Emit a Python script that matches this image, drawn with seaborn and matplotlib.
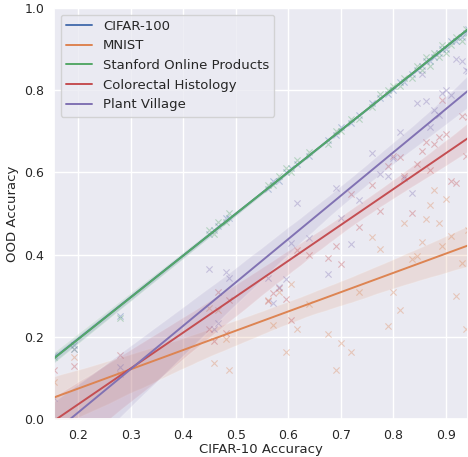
import pandas as pd
import matplotlib
matplotlib.use('Agg')
import matplotlib.pyplot as plt
import seaborn as sns

sns.set_theme(style='darkgrid')
plt.rcParams['font.family'] = ['DejaVu Sans']

# CIFAR-10 accuracy of each model (shared x)
cifar10 = [0.154, 0.192, 0.280, 0.449, 0.459, 0.466, 0.481, 0.487, 0.561, 0.571,
           0.583, 0.596, 0.606, 0.617, 0.640, 0.676, 0.690, 0.700, 0.720, 0.735,
           0.760, 0.775, 0.790, 0.800, 0.812, 0.820, 0.835, 0.845, 0.855, 0.862,
           0.870, 0.878, 0.886, 0.893, 0.900, 0.910, 0.920, 0.930, 0.938, 0.942]

# OOD accuracy per dataset
cifar100 = [0.155, 0.18, 0.25, 0.45, 0.46, 0.47, 0.49, 0.49, 0.56, 0.58,
            0.58, 0.60, 0.61, 0.62, 0.64, 0.68, 0.69, 0.71, 0.72, 0.74,
            0.77, 0.78, 0.79, 0.80, 0.82, 0.82, 0.84, 0.85, 0.86, 0.87,
            0.87, 0.88, 0.89, 0.90, 0.90, 0.92, 0.92, 0.93, 0.94, 0.95]
mnist = [0.09, 0.15, 0.11, 0.27, 0.135, 0.265, 0.195, 0.12, 0.29, 0.229,
         0.31, 0.164, 0.328, 0.22, 0.28, 0.206, 0.12, 0.184, 0.162, 0.308,
         0.443, 0.413, 0.227, 0.309, 0.265, 0.478, 0.39, 0.397, 0.43, 0.486,
         0.52, 0.557, 0.478, 0.42, 0.535, 0.446, 0.30, 0.38, 0.22, 0.46]
sop = [0.15, 0.17, 0.245, 0.46, 0.45, 0.48, 0.48, 0.50, 0.57, 0.57,
       0.59, 0.61, 0.60, 0.63, 0.65, 0.67, 0.70, 0.70, 0.73, 0.73,
       0.76, 0.79, 0.80, 0.81, 0.81, 0.83, 0.83, 0.86, 0.85, 0.88,
       0.86, 0.89, 0.88, 0.91, 0.89, 0.91, 0.93, 0.92, 0.95, 0.94]
colorectal = [0.12, 0.13, 0.156, 0.22, 0.19, 0.31, 0.21, 0.29, 0.287, 0.307,
              0.318, 0.291, 0.241, 0.41, 0.40, 0.392, 0.421, 0.376, 0.547, 0.468,
              0.569, 0.506, 0.616, 0.64, 0.637, 0.59, 0.502, 0.62, 0.652, 0.675,
              0.607, 0.668, 0.685, 0.776, 0.693, 0.579, 0.573, 0.738, 0.64, 0.735]
plant_village = [0.05, 0.17, 0.127, 0.364, 0.219, 0.233, 0.357, 0.344, 0.342, 0.281,
                 0.322, 0.34, 0.427, 0.525, 0.441, 0.352, 0.563, 0.49, 0.426, 0.533,
                 0.646, 0.595, 0.59, 0.634, 0.699, 0.587, 0.549, 0.768, 0.839, 0.774,
                 0.711, 0.752, 0.74, 0.792, 0.80, 0.788, 0.875, 0.871, 0.849, 0.846]

datasets = {
    'CIFAR-100': cifar100,
    'MNIST': mnist,
    'Stanford Online Products': sop,
    'Colorectal Histology': colorectal,
    'Plant Village': plant_village,
}

rows = []
for name, vals in datasets.items():
    for x, y in zip(cifar10, vals):
        rows.append({'dataset': name, 'cifar10': x, 'ood': y})
df = pd.DataFrame(rows)

fig = plt.figure(figsize=(4.68, 4.57), dpi=100)
ax = fig.add_axes([0.1154, 0.0832, 0.8846, 0.8993])

palette = sns.color_palette('deep')
for i, name in enumerate(datasets):
    sub = df[df['dataset'] == name]
    sns.regplot(data=sub, x='cifar10', y='ood', ax=ax, color=palette[i],
                marker='x', seed=0,
                scatter_kws={'s': 20, 'alpha': 0.35, 'linewidths': 0.8},
                line_kws={'label': name, 'linewidth': 1.4})

ax.set_xlim(0.154, 0.942)
ax.set_ylim(0, 1.0)
ax.set_xlabel('CIFAR-10 Accuracy', fontsize=9.5, labelpad=1)
ax.set_ylabel('OOD Accuracy', fontsize=9.5, labelpad=4)
ax.tick_params(labelsize=9, pad=1)
ax.legend(loc='upper left', fontsize=9.5)

fig.savefig('out.png', dpi=100)
